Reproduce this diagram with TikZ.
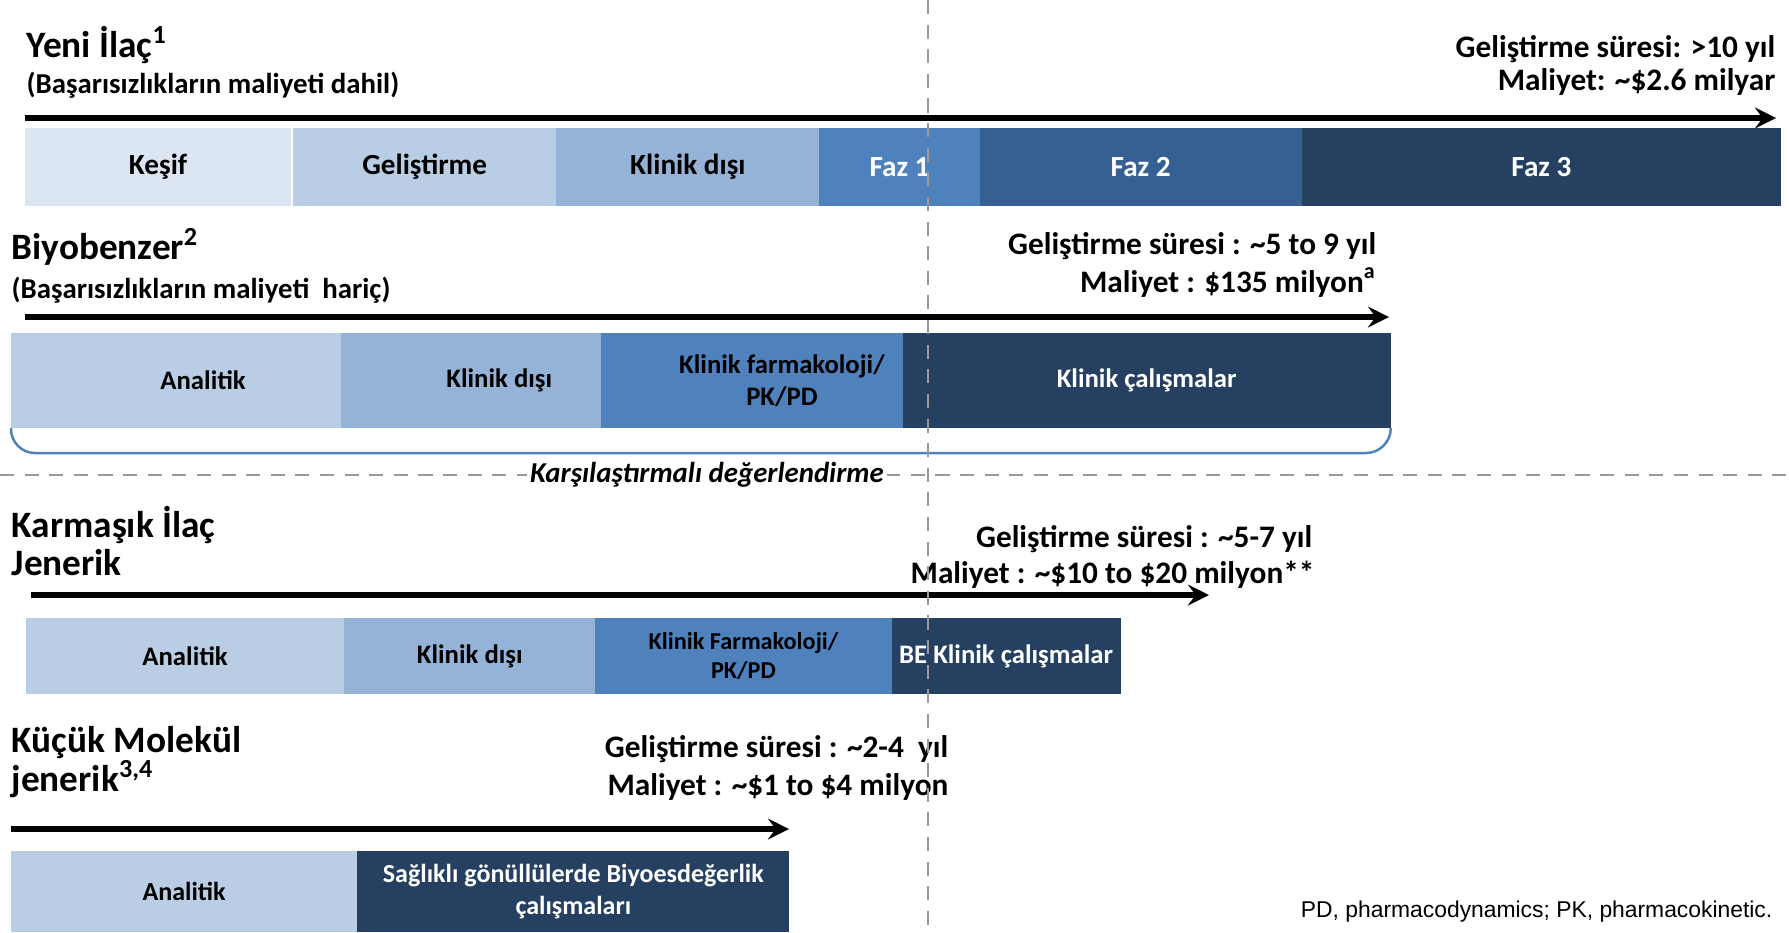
\documentclass[tikz,border=0pt]{standalone}
\usepackage{fontspec}
\setmainfont{Carlito}
\newfontfamily\notefont{Liberation Sans}
\usetikzlibrary{positioning}

\definecolor{phaseA}{HTML}{DCE6F2}
\definecolor{phaseB}{HTML}{B9CDE5}
\definecolor{phaseC}{HTML}{95B3D7}
\definecolor{phaseD}{HTML}{4F81BD}
\definecolor{phaseE}{HTML}{376092}
\definecolor{phaseF}{HTML}{254061}

\begin{document}
\begin{tikzpicture}[>=stealth, x=0.01cm, y=-0.01cm]
    \tikzset{bar/.style = {minimum width=#1, inner sep=0pt, outer sep=0pt, align=center},
             rowA/.style = {minimum height=0.785cm, font=\bfseries\fontsize{8.3}{9.5}\selectfont},
             rowB/.style = {minimum height=0.95cm, font=\bfseries\fontsize{7.6}{9}\selectfont},
             rowC/.style = {minimum height=0.76cm, font=\bfseries\fontsize{7.6}{9}\selectfont},
             rowD/.style = {minimum height=0.81cm, font=\bfseries\fontsize{7.4}{9}\selectfont},
             dark/.style = {text=white},
             heading/.style = {anchor=base west, inner sep=0pt, font=\bfseries\fontsize{10.6}{13}\selectfont},
             remark/.style = {anchor=base west, inner sep=0pt, font=\bfseries\fontsize{8.2}{10}\selectfont},
             info/.style = {anchor=base east, inner sep=0pt, font=\bfseries\fontsize{8.9}{11}\selectfont},
             timeline/.style = {->, line width=1.6pt},
             brace/.style = {draw=phaseD, line width=0.7pt, rounded corners=0.24cm},
             guide/.style = {dash pattern=on 4pt off 3pt, draw=gray!80, line width=0.5pt}}

    \useasboundingbox (0,0) rectangle (1789,932);

    \node[heading] (yeni) at (26,57) {Yeni İlaç\textsuperscript{1}};
    \node[remark] (dahil) at (26,93) {(Başarısızlıkların maliyeti dahil)};
    \node[info] (sureA) at (1776,57) {Geliştirme süresi: >10 yıl};
    \node[info] (costA) at (1776,90) {Maliyet: \textasciitilde\$2.6 milyar};

    \node[bar=2.66cm, rowA, fill=phaseA, anchor=west] (kesif) at (25,167) {Keşif};
    \node[bar=2.63cm, rowA, fill=phaseB, right=0.02cm of kesif] (gelistirme) {Geliştirme};
    \node[bar=2.63cm, rowA, fill=phaseC, right=0pt of gelistirme] (klinikdisi) {Klinik dışı};
    \node[bar=1.60cm, rowA, fill=phaseD, dark, right=0pt of klinikdisi] (faz1) {Faz 1};
    \node[bar=3.22cm, rowA, fill=phaseE, dark, right=0pt of faz1] (faz2) {Faz 2};
    \node[bar=4.79cm, rowA, fill=phaseF, dark, right=0pt of faz2] (faz3) {Faz 3};

    \node[heading] (biyo) at (11,259) {Biyobenzer\textsuperscript{2}};
    \node[remark] (haric) at (11,298) {(Başarısızlıkların maliyeti\ \ hariç)};
    \node[info] (sureB) at (1377,254) {Geliştirme süresi : \textasciitilde5 to 9 yıl};
    \node[info] (costB) at (1377,292) {Maliyet : \$135 milyon\textsuperscript{a}};

    \node[bar=3.30cm, rowB, fill=phaseB, anchor=west] (analitikB) at (11,380.5) {\hspace*{0.54cm}Analitik};
    \node[bar=2.60cm, rowB, fill=phaseC, right=0pt of analitikB] (klinikdisiB) {\hspace*{0.56cm}Klinik dışı};
    \node[bar=3.01cm, rowB, fill=phaseD, right=0pt of klinikdisiB] (farmakolojiB) {\hspace*{0.6cm}Klinik farmakoloji/\\\hspace*{0.6cm}PK/PD};
    \node[bar=4.88cm, rowB, fill=phaseF, dark, right=0pt of farmakolojiB] (klinikB) {Klinik çalışmalar};

    \node[heading] (karmasik) at (11,537) {Karmaşık İlaç};
    \node[heading] (jenerikC) at (11,575) {Jenerik};
    \node[info] (sureC) at (1313,547) {Geliştirme süresi : \textasciitilde5-7 yıl};
    \node[info] (costC) at (1315,583) {Maliyet : \textasciitilde\$10 to \$20 milyon**};

    \node[bar=3.18cm, rowC, fill=phaseB, anchor=west] (analitikC) at (26,656) {Analitik};
    \node[bar=2.51cm, rowC, fill=phaseC, right=0pt of analitikC] (klinikdisiC) {Klinik dışı};
    \node[bar=2.96cm, rowC, fill=phaseD, font=\bfseries\fontsize{6.9}{8.2}\selectfont, right=0pt of klinikdisiC] (farmakolojiC) {Klinik Farmakoloji/\\PK/PD};
    \node[bar=2.29cm, rowC, fill=phaseF, dark, right=0pt of farmakolojiC] (klinikC) {BE Klinik çalışmalar};

    \node[heading] (kucuk) at (11,752) {Küçük Molekül};
    \node[heading] (jenerikD) at (11,791) {jenerik\textsuperscript{3,4}};
    \node[info] (sureD) at (949,757) {Geliştirme süresi : \textasciitilde2-4\ \ yıl};
    \node[info] (costD) at (949,795) {Maliyet : \textasciitilde\$1 to \$4 milyon};

    \node[bar=3.46cm, rowD, fill=phaseB, anchor=west] (analitikD) at (11,891.5) {Analitik};
    \node[bar=4.32cm, rowD, fill=phaseF, dark, right=0pt of analitikD] (biyoesD) {Sağlıklı gönüllülerde Biyoesdeğerlik\\çalışmaları};

    \coordinate (startA) at (25,118);
    \coordinate (endA) at (1776,118);
    \coordinate (startB) at (25,317);
    \coordinate (endB) at (1389,317);
    \coordinate (startC) at (31,595);
    \coordinate (endC) at (1209,595);
    \coordinate (startD) at (11,829);
    \coordinate (endD) at (789,829);
    \draw[timeline] (startA) -- (endA);
    \draw[timeline] (startB) -- (endB);
    \draw[timeline] (startC) -- (endC);
    \draw[timeline] (startD) -- (endD);

    \coordinate (braceend) at (1390,453);
    \draw[brace] (analitikB.south west) |- (braceend) -- (klinikB.south east);

    \coordinate (splitL) at (0,475);
    \coordinate (splitR) at (1789,475);
    \draw[guide] (splitL) -- (splitR);
    \node[fill=white, inner sep=1pt, font=\bfseries\itshape\fontsize{8.2}{10}\selectfont] (karsilastirma) at (707,475) {Karşılaştırmalı değerlendirme};

    \coordinate (guideT) at (928,0);
    \coordinate (guideB) at (928,932);
    \draw[guide] (guideT) -- (guideB);

    \node[anchor=base east, inner sep=0pt, font=\notefont\fontsize{6.5}{8}\selectfont] (note) at (1773,917) {PD, pharmacodynamics; PK, pharmacokinetic.};
\end{tikzpicture}
\end{document}
